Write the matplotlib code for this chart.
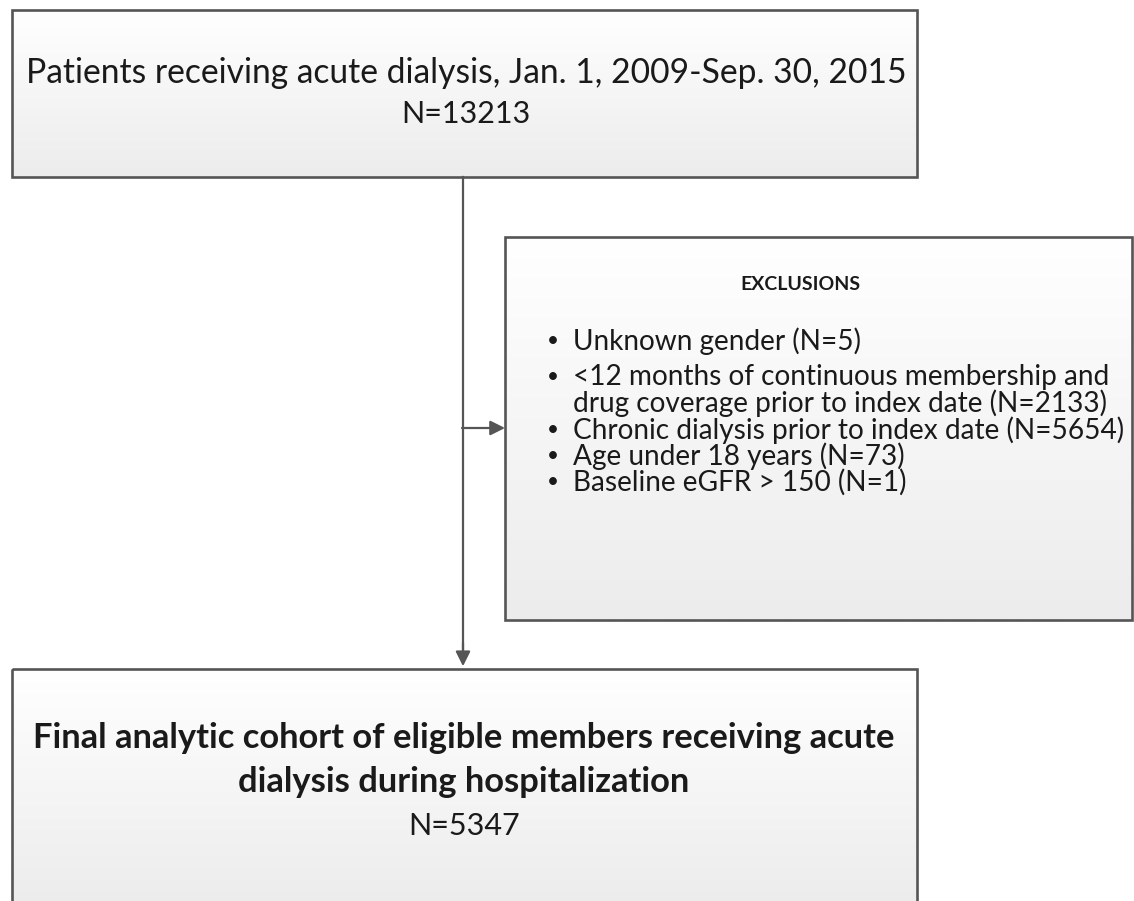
import numpy as np
import matplotlib.pyplot as plt
from matplotlib.patches import Rectangle
from matplotlib.colors import LinearSegmentedColormap

plt.rcParams['font.family'] = ['Lato', 'DejaVu Sans']

# box texts
top_lines = ["Patients receiving acute dialysis, Jan. 1, 2009-Sep. 30, 2015", "N=13213"]
excl_title = "EXCLUSIONS"
excl_items = ["Unknown gender (N=5)",
              "<12 months of continuous membership and\ndrug coverage prior to index date (N=2133)",
              "Chronic dialysis prior to index date (N=5654)",
              "Age under 18 years (N=73)",
              "Baseline eGFR > 150 (N=1)"]
final_lines = ["Final analytic cohort of eligible members receiving acute",
               "dialysis during hospitalization"]
final_n = "N=5347"

W, H = 1134, 901
fig = plt.figure(figsize=(W / 100, H / 100), dpi=100)
ax = fig.add_axes([0, 0, 1, 1])
ax.axis('off')

grad = np.linspace(0, 1, 256).reshape(-1, 1)
cm = LinearSegmentedColormap.from_list('g', ['#ffffff', '#ececec'])
txt = '#1a1a1a'
lc = '#555555'


def box(x0, y0, x1, y1):
    r = Rectangle((x0, y0), x1 - x0, y1 - y0, facecolor='none',
                  edgecolor=lc, lw=1.9, zorder=3)
    ax.add_patch(r)
    im = ax.imshow(grad, cmap=cm, extent=(x0, x1, y1, y0), aspect='auto', zorder=1)
    im.set_clip_path(r)


box(12, 10, 917, 177)
box(505, 237, 1132, 620)
box(12, 669, 917, 905)

ax.set_xlim(0, W)
ax.set_ylim(H, 0)

# connectors
ax.plot([463, 463], [177, 655], color=lc, lw=1.6, zorder=2)
ax.annotate('', xy=(463, 669), xytext=(463, 640),
            arrowprops=dict(arrowstyle='-|>', color=lc, lw=1.6, mutation_scale=22))
ax.annotate('', xy=(505, 428), xytext=(462, 428),
            arrowprops=dict(arrowstyle='-|>', color=lc, lw=1.6, mutation_scale=22,
                            shrinkA=0, shrinkB=0))

ax.text(466, 73, top_lines[0], ha='center', va='center', fontsize=24.2, color=txt)
ax.text(466, 114, top_lines[1], ha='center', va='center', fontsize=22, color=txt)

ax.text(800, 284, excl_title, ha='center', va='center', fontsize=14,
        fontweight='bold', color=txt)
ys = [341, 377, 430, 456, 482]
for y, t in zip(ys, excl_items):
    ax.text(553, y, u'\u2022', ha='center', va='center', fontsize=15, color=txt)
    parts = t.split('\n')
    for k, p in enumerate(parts):
        ax.text(573, y + 26 * k, p, ha='left', va='center', fontsize=20.2, color=txt)

ax.text(464, 738, final_lines[0], ha='center', va='center', fontsize=24.8,
        fontweight='bold', color=txt)
ax.text(464, 782, final_lines[1], ha='center', va='center', fontsize=24.8,
        fontweight='bold', color=txt)
ax.text(464, 826, final_n, ha='center', va='center', fontsize=22, color=txt)

fig.savefig('out.png', dpi=100, facecolor='white')
